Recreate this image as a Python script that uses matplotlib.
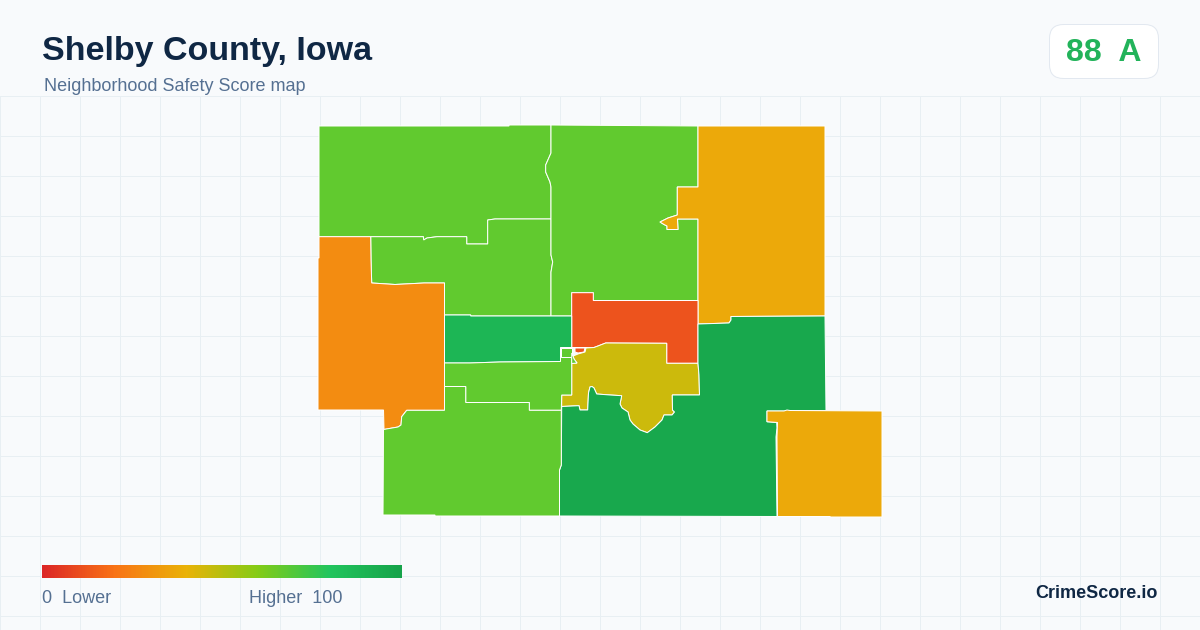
import numpy as np
import matplotlib
matplotlib.use('Agg')
import matplotlib.pyplot as plt
from matplotlib.colors import LinearSegmentedColormap, Normalize
from matplotlib.patches import FancyBboxPatch, Polygon

plt.rcParams['font.family'] = ['Liberation Sans', 'DejaVu Sans']

title = "Shelby County, Iowa"
subtitle = "Neighborhood Safety Score map"
score_label = "88  A"
brand = "CrimeScore.io"

# colour scale
stop_pos = [0.0, 0.2, 0.4, 0.6, 0.8, 1.0]
stop_colors = ['#dc2626', '#f97316', '#eab308', '#84cc16', '#22c55e', '#16a34a']

# scores
score_nw = 67
score_mid_n = 67
score_north = 67
score_west = 28
score_ne = 37
score_red = 12
score_town = 46
score_se = 97
score_far_se = 37
score_band = 89
score_mid_s = 67
score_sw = 67

# region outlines, in map units (picture pixels)
nw = [(319, 126), (509, 126), (509, 125), (551, 125), (551, 153), (545.7, 165), (545.7, 172), (550, 182),
      (551, 187), (551, 219), (495, 219), (487.7, 220), (487.7, 244), (466.7, 244), (466.7, 236.7), (437, 236.7),
      (427, 238), (423.7, 240), (423.3, 236.7), (319, 236.7)]
mid_n = [(370.7, 236.7), (423.3, 236.7), (423.7, 240), (427, 238), (437, 236.7), (466.7, 236.7), (466.7, 244),
         (487.7, 244), (487.7, 220), (495, 219), (551, 219), (551, 255), (552.7, 262), (551, 272), (551, 316),
         (470.7, 316), (470.7, 315), (444.5, 315), (444.5, 283), (424, 283), (395, 284.5), (371.7, 283),
         (371, 260)]
west = [(319, 236.7), (370.7, 236.7), (371, 260), (371.7, 283), (395, 284.5), (424, 283), (444.5, 283),
        (444.5, 410.3), (406.7, 410.3), (401.7, 416.7), (401, 425), (398, 427), (384, 429.5), (383.5, 410),
        (318, 410), (318, 258), (319, 258)]
north = [(551, 125), (698, 126), (698, 187), (677.3, 187), (677.3, 215), (668, 218), (660, 222), (664, 224.5),
         (667, 226), (667, 229.5), (678, 229.5), (677.5, 219), (698, 219), (698, 300.5), (593.3, 300.5),
         (593.3, 292.7), (571.7, 292.7), (571.7, 316), (551, 316), (551, 272), (552.7, 262), (551, 255),
         (551, 187), (550, 182), (545.7, 172), (545.7, 165), (551, 153)]
ne = [(698, 126), (825, 126), (825, 316), (731, 316.5), (731, 320), (729, 323), (698, 324), (698, 219),
      (677.5, 219), (678, 229.5), (667, 229.5), (667, 226), (664, 224.5), (660, 222), (668, 218), (677.3, 215),
      (677.3, 187), (698, 187)]
red_main = [(571.7, 292.7), (593.3, 292.7), (593.3, 300.5), (698, 300.5), (698, 363.3), (666.7, 363.3),
            (666.7, 343.3), (605.7, 343), (598, 346), (594, 347.5), (586, 347.5), (571.7, 347.5)]
red_bit = [(575, 348), (585, 348), (584, 352), (578, 353), (575, 352)]
town = [(605.7, 343), (666.7, 343.3), (666.7, 363.3), (698, 363.3), (699, 375), (699.5, 395), (672.3, 395),
        (672.5, 410), (674.5, 412), (672, 415), (664, 415), (662, 420), (655, 427), (647.3, 432.7), (640, 430),
        (633, 424), (630, 420), (628, 412), (622, 408), (620, 404), (621.7, 395.7), (610, 395), (596.7, 394),
        (594, 388), (592, 386.5), (590, 387), (588.5, 393), (587.7, 410), (580, 410), (579, 405.7), (561.7, 406.5),
        (561.7, 395), (571.7, 395), (571.7, 363.5), (577, 363), (574, 359), (573, 356), (578, 354), (585, 352),
        (586, 348), (594, 347.5), (598, 346)]
se = [(698, 324), (729, 323), (731, 320), (731, 316.5), (825, 316), (826, 410.5), (790, 410.5), (784, 411),
      (767, 411), (767, 421.7), (776.7, 422.5), (777, 428), (776, 437), (777, 516.5), (559.5, 516), (559.5, 470),
      (561.3, 465), (561.7, 406.5), (579, 405.7), (580, 410), (587.7, 410), (588.5, 393), (590, 387), (592, 386.5),
      (594, 388), (596.7, 394), (610, 395), (621.7, 395.7), (620, 404), (622, 408), (628, 412), (630, 420),
      (633, 424), (640, 430), (647.3, 432.7), (655, 427), (662, 420), (664, 415), (672, 415), (674.5, 412),
      (672.5, 410), (672.3, 395), (699.5, 395), (699, 375), (698, 363.3)]
far_se = [(767, 411), (784, 411), (787, 410), (790, 410.5), (882, 411), (882, 517), (830, 517), (830, 516.5),
          (777.5, 516.5), (777, 437), (777.5, 422.5), (767, 421.7)]
band = [(444.5, 315), (470.7, 315), (470.7, 316), (571.7, 316), (571.7, 347.5), (560.5, 347.5), (560.5, 361.5),
        (500, 362), (470, 363), (444.5, 363)]
mid_s = [(444.5, 363), (470, 363), (500, 362), (560.5, 361.5), (560.5, 357.3), (571.7, 357.3), (571.7, 395),
         (561.7, 395), (561.3, 410.3), (529.3, 410.3), (529.3, 402.5), (465.7, 402.5), (465.7, 386.5), (444.5, 386.5)]
town_a = [(560.5, 347.5), (571.7, 347.5), (571.7, 357.3), (560.5, 357.3)]
town_b = [(571.7, 353), (573, 356), (574, 359), (577, 363), (571.7, 363.5)]
sw = [(406.7, 410.3), (444.5, 410.3), (444.5, 386.5), (465.7, 386.5), (465.7, 402.5), (529.3, 402.5),
      (529.3, 410.3), (561.3, 410.3), (561.3, 465), (559.5, 470), (559.5, 516), (435, 516), (435, 515), (383, 515),
      (383.5, 429.5), (398, 427), (401, 425), (401.7, 416.7)]

regions = [(nw, score_nw), (mid_n, score_mid_n), (west, score_west), (north, score_north), (ne, score_ne),
           (red_main, score_red), (red_bit, score_red), (town, score_town), (se, score_se), (far_se, score_far_se),
           (band, score_band), (mid_s, score_mid_s), (town_a, score_mid_s), (town_b, score_mid_s), (sw, score_sw)]

cmap = LinearSegmentedColormap.from_list('safety', list(zip(stop_pos, stop_colors)))
norm = Normalize(0, 100)

fig = plt.figure(figsize=(12, 6.3), dpi=100, facecolor='#f8fafc')
ax = fig.add_axes([0, 0, 1, 1])
ax.set_xlim(0, 1200)
ax.set_ylim(630, 0)
ax.axis('off')

# background grid
for gx in range(0, 1200, 40):
    ax.plot([gx, gx], [96, 630], color='#e8eff3', lw=0.72, zorder=1)
for gy in range(96, 630, 40):
    ax.plot([0, 1200], [gy, gy], color='#e8eff3', lw=0.72, zorder=1)

# map
for outline, score in regions:
    ax.add_patch(Polygon(outline, closed=True, facecolor=cmap(norm(score)), edgecolor='white',
                         lw=0.72, joinstyle='miter', zorder=2))

# title block
ax.text(42, 60, title, fontsize=24.5, fontweight='bold', color='#0f2744', va='baseline', zorder=5)
ax.text(44, 91, subtitle, fontsize=13, color='#557092', va='baseline', zorder=5)

# score badge
ax.add_patch(FancyBboxPatch((1049.5, 24.5), 109, 54, boxstyle='round,pad=0,rounding_size=14',
                            facecolor='white', edgecolor='#e2e8f0', lw=0.72, zorder=4))
ax.text(1066, 61, score_label, fontsize=23, fontweight='bold', color='#22b35a', va='baseline', zorder=5)

# legend
ramp = np.linspace(0, 1, 360).reshape(1, -1)
ax.imshow(ramp, cmap=cmap, extent=(42, 402, 578, 565), aspect='auto', zorder=3)
ax.set_xlim(0, 1200)
ax.set_ylim(630, 0)
ax.text(42, 603, "0  Lower", fontsize=13, color='#557092', va='baseline', zorder=5)
ax.text(249, 603, "Higher  100", fontsize=13, color='#557092', va='baseline', zorder=5)

ax.text(1158, 598, brand, fontsize=13, fontweight='bold', color='#0f2744', ha='right', va='baseline', zorder=5)

fig.savefig('out.png', dpi=100, facecolor=fig.get_facecolor())
